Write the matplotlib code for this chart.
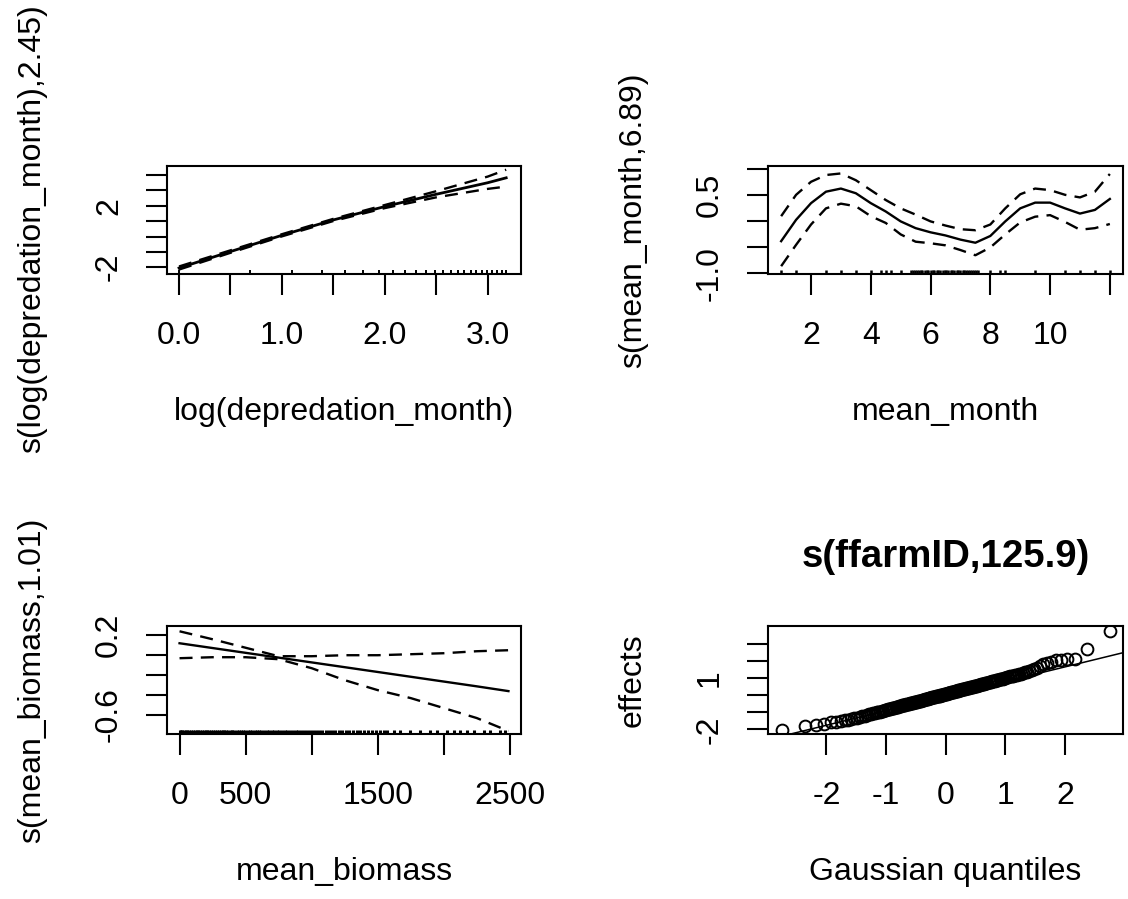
import matplotlib
matplotlib.use("Agg")
import numpy as np
import matplotlib.pyplot as plt
from statistics import NormalDist

# s(log(depredation_month), 2.45)
dep_x = [0.0, 0.5, 1.0, 1.5, 2.0, 2.5, 3.0, 3.18]
dep_fit = [-2.05, -0.98, 0.08, 1.08, 1.95, 2.75, 3.50, 3.82]
dep_upper = [-1.95, -0.90, 0.15, 1.15, 2.05, 2.95, 3.90, 4.35]
dep_lower = [-2.15, -1.06, 0.01, 1.01, 1.85, 2.55, 3.10, 3.25]
dep_counts = [1, 2, 3, 4, 5, 6, 7, 8, 9, 10, 11, 12, 13, 14, 15, 16, 17, 18, 19, 20, 21, 22, 23, 24]

# s(mean_month, 6.89)
month_x = [1, 1.5, 2, 2.5, 3, 3.5, 4, 4.5, 5, 5.5, 6, 6.5, 7, 7.5, 8, 8.5, 9, 9.5, 10, 10.5, 11, 11.5, 12]
month_fit = [-0.38, 0.03, 0.35, 0.57, 0.63, 0.54, 0.35, 0.19, 0.00, -0.13, -0.21, -0.27, -0.35, -0.41,
             -0.28, 0.00, 0.25, 0.36, 0.36, 0.25, 0.15, 0.22, 0.43]
month_upper = [0.10, 0.51, 0.76, 0.89, 0.92, 0.79, 0.60, 0.41, 0.25, 0.13, 0.00, -0.08, -0.15, -0.17,
               -0.06, 0.25, 0.52, 0.63, 0.60, 0.51, 0.46, 0.57, 0.91]
month_lower = [-0.86, -0.45, -0.06, 0.25, 0.34, 0.29, 0.10, -0.03, -0.25, -0.39, -0.42, -0.46, -0.55, -0.65,
               -0.50, -0.25, -0.02, 0.09, 0.12, -0.01, -0.16, -0.13, -0.05]
month_rug = [1.0, 1.5, 2.5, 3.0, 3.5, 4.0, 4.33, 4.5, 4.67, 5.0, 5.33, 5.4, 5.47, 5.53, 5.6, 5.67, 5.73,
             5.8, 5.87, 5.93, 6.0, 6.07, 6.13, 6.2, 6.25, 6.33, 6.4, 6.47, 6.53, 6.6, 6.67, 6.73, 6.8,
             6.87, 6.93, 7.0, 7.07, 7.13, 7.2, 7.25, 7.33, 7.4, 7.47, 7.53, 7.6, 8.0, 8.33, 8.5, 9.5,
             10.5, 11.0, 11.5, 12.0]

# s(mean_biomass, 1.01)
bio_x = [0, 250, 500, 750, 1000, 1250, 1500, 1750, 2000, 2250, 2490]
bio_fit = [0.12, 0.072, 0.024, -0.024, -0.072, -0.12, -0.168, -0.216, -0.264, -0.312, -0.36]
bio_upper = [0.24, 0.16, 0.075, -0.01, -0.01, 0.00, 0.00, 0.01, 0.02, 0.04, 0.05]
bio_lower = [-0.03, -0.02, -0.02, -0.04, -0.13, -0.25, -0.35, -0.43, -0.53, -0.63, -0.76]
bio_rug = [0, 10, 22, 35, 48, 60, 75, 88, 100, 115, 130, 142, 155, 170, 185, 198, 210, 225, 240, 255,
           270, 284, 298, 312, 326, 340, 355, 370, 386, 400, 415, 432, 448, 465, 480, 497, 515, 532,
           550, 568, 585, 603, 620, 640, 660, 678, 697, 715, 735, 755, 775, 795, 815, 835, 858, 880,
           900, 922, 945, 968, 990, 1012, 1035, 1058, 1080, 1105, 1130, 1155, 1180, 1205, 1230, 1258,
           1285, 1312, 1340, 1368, 1396, 1425, 1455, 1485, 1515, 1545, 1570, 1622, 1672, 1748, 1823,
           1899, 1950, 2025, 2076, 2126, 2177, 2227, 2303, 2353, 2429, 2467]

# s(ffarmID, 125.9) random effects, sorted
farm_effects = [
    -2.05, -1.78, -1.73, -1.66, -1.60, -1.56, -1.52, -1.47, -1.43, -1.39,
    -1.36, -1.32, -1.28, -1.24, -1.20, -1.17, -1.13, -1.10, -1.07, -1.04,
    -1.01, -0.98, -0.96, -0.93, -0.91, -0.88, -0.86, -0.84, -0.81, -0.79,
    -0.77, -0.75, -0.73, -0.71, -0.69, -0.67, -0.65, -0.63, -0.61, -0.60,
    -0.58, -0.56, -0.54, -0.53, -0.51, -0.49, -0.48, -0.46, -0.44, -0.43,
    -0.41, -0.40, -0.38, -0.37, -0.35, -0.33, -0.32, -0.30, -0.29, -0.27,
    -0.26, -0.24, -0.23, -0.21, -0.20, -0.18, -0.17, -0.16, -0.14, -0.13,
    -0.11, -0.10, -0.08, -0.07, -0.06, -0.04, -0.03, -0.01, 0.00, 0.01,
    0.03, 0.04, 0.06, 0.07, 0.08, 0.10, 0.11, 0.13, 0.14, 0.15,
    0.17, 0.18, 0.20, 0.21, 0.22, 0.24, 0.25, 0.27, 0.28, 0.30,
    0.31, 0.33, 0.34, 0.35, 0.37, 0.38, 0.40, 0.41, 0.43, 0.44,
    0.46, 0.47, 0.49, 0.50, 0.52, 0.54, 0.55, 0.57, 0.58, 0.60,
    0.62, 0.63, 0.65, 0.67, 0.68, 0.70, 0.72, 0.74, 0.75, 0.77,
    0.79, 0.81, 0.83, 0.85, 0.87, 0.89, 0.91, 0.94, 0.96, 0.98,
    1.00, 1.03, 1.05, 1.08, 1.10, 1.13, 1.16, 1.19, 1.22, 1.25,
    1.29, 1.32, 1.36, 1.40, 1.44, 1.49, 1.58, 1.68, 1.80, 1.86,
    1.95, 2.02, 2.06, 2.10, 2.12, 2.66, 3.74]
qq_intercept = -0.06
qq_slope = 0.85

# ticks and labels
dep_xticks = [0.0, 0.5, 1.0, 1.5, 2.0, 2.5, 3.0]
dep_xticklabels = ["0.0", "", "1.0", "", "2.0", "", "3.0"]
dep_yticks = [-2, -1, 0, 1, 2, 3, 4]
dep_yticklabels = ["-2", "", "", "", "2", "", ""]
month_xticks = [2, 4, 6, 8, 10, 12]
month_xticklabels = ["2", "4", "6", "8", "10", ""]
month_yticks = [-1.0, -0.5, 0.0, 0.5, 1.0]
month_yticklabels = ["-1.0", "", "", "0.5", ""]
bio_xticks = [0, 500, 1000, 1500, 2000, 2500]
bio_xticklabels = ["0", "500", "", "1500", "", "2500"]
bio_yticks = [-0.6, -0.4, -0.2, 0.0, 0.2]
bio_yticklabels = ["-0.6", "", "", "", "0.2"]
farm_xticks = [-2, -1, 0, 1, 2]
farm_xticklabels = ["-2", "-1", "0", "1", "2"]
farm_yticks = [-2, -1, 0, 1, 2, 3]
farm_yticklabels = ["-2", "", "", "1", "", ""]

plt.rcParams['font.family'] = ['Liberation Sans', 'DejaVu Sans']
FS = 23
W, H = 1128, 899
fig = plt.figure(figsize=(W / 100, H / 100), dpi=100)


def make_axes(left, top, right, bottom):
    return fig.add_axes([left / W, 1 - bottom / H, (right - left) / W, (bottom - top) / H])


def style(ax, xlim, ylim, xt, xtl, yt, ytl, xlabel, ylabel, ylabel_y=0.5):
    ax.set_xlim(xlim)
    ax.set_ylim(ylim)
    ax.set_xticks(xt)
    ax.set_xticklabels(xtl)
    ax.set_yticks(yt)
    ax.set_yticklabels(ytl, rotation=90, va='center')
    ax.tick_params(axis='both', direction='out', length=15, width=1.5, labelsize=FS)
    ax.tick_params(axis='x', pad=19)
    ax.tick_params(axis='y', pad=16)
    for s in ax.spines.values():
        s.set_linewidth(1.5)
    ax.set_xlabel(xlabel, fontsize=FS)
    ax.set_ylabel(ylabel, fontsize=FS)
    h = ax.get_position().height * H
    w = ax.get_position().width * W
    ax.xaxis.set_label_coords(0.5, -138 / h)
    ax.xaxis.label.set_va('center')
    ax.yaxis.set_label_coords(-135 / w, ylabel_y)
    ax.yaxis.label.set_va('center')


def rug(ax, vals, lw=1.4):
    ax.vlines(vals, 0, 0.04, transform=ax.get_xaxis_transform(), color='black', lw=lw)


dash = (0, (5.5, 3.5))
lw = 1.7

# panel 1
ax1 = make_axes(167, 166, 521, 274)
ax1.plot(dep_x, dep_fit, color='black', lw=2.0)
ax1.plot(dep_x, dep_upper, color='black', lw=lw, linestyle=dash)
ax1.plot(dep_x, dep_lower, color='black', lw=lw, linestyle=dash)
rug(ax1, np.log(dep_counts))
style(ax1, (-0.117, 3.324), (-2.44, 4.59), dep_xticks, dep_xticklabels, dep_yticks, dep_yticklabels,
      "log(depredation_month)", "s(log(depredation_month),2.45)", ylabel_y=0.42)

# panel 2
ax2 = make_axes(768, 166, 1123, 274)
ax2.plot(month_x, month_fit, color='black', lw=lw)
ax2.plot(month_x, month_upper, color='black', lw=lw, linestyle=dash)
ax2.plot(month_x, month_lower, color='black', lw=lw, linestyle=dash)
rug(ax2, month_rug, lw=1.8)
style(ax2, (0.56, 12.44), (-1.01, 1.063), month_xticks, month_xticklabels, month_yticks, month_yticklabels,
      "mean_month", "s(mean_month,6.89)")

# panel 3
ax3 = make_axes(167, 626, 521, 734)
ax3.plot(bio_x, bio_fit, color='black', lw=lw)
ax3.plot(bio_x, bio_upper, color='black', lw=lw, linestyle=dash)
ax3.plot(bio_x, bio_lower, color='black', lw=lw, linestyle=dash)
rug(ax3, bio_rug, lw=2.2)
style(ax3, (-95, 2585), (-0.79, 0.293), bio_xticks, bio_xticklabels, bio_yticks, bio_yticklabels,
      "mean_biomass", "s(mean_biomass,1.01)")

# panel 4
ax4 = make_axes(768, 626, 1123, 734)
n = len(farm_effects)
quantiles = [NormalDist().inv_cdf((i - 0.5) / n) for i in range(1, n + 1)]
ax4.plot(quantiles, farm_effects, 'o', mfc='none', mec='black', ms=8.5, mew=1.4)
ax4.axline((0, qq_intercept), slope=qq_slope, color='black', lw=1.1)
style(ax4, (-2.98, 2.97), (-2.27, 4.02), farm_xticks, farm_xticklabels, farm_yticks, farm_yticklabels,
      "Gaussian quantiles", "effects")
ax4.text(0.5, 1 + 69 / 108, "s(ffarmID,125.9)", transform=ax4.transAxes, ha='center', va='center',
         fontsize=27.6, fontweight='bold')

fig.savefig("out.png", dpi=100)
